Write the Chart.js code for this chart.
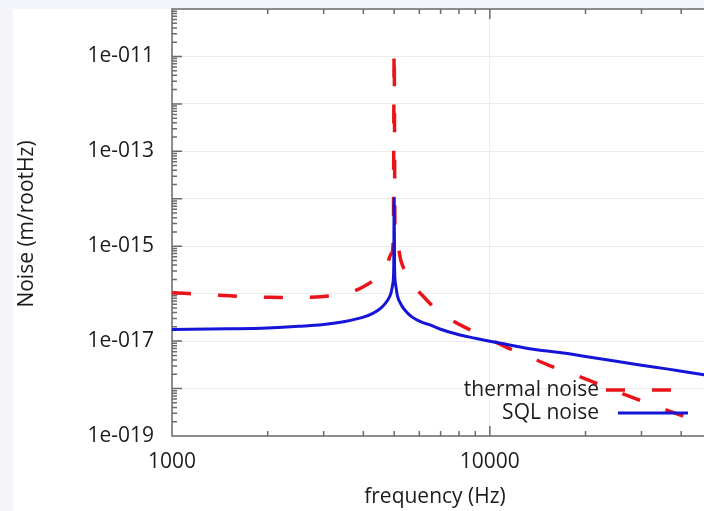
<!DOCTYPE html>
<html>
<head>
<meta charset="utf-8">
<title>Noise spectrum</title>
<script src="https://cdn.jsdelivr.net/npm/chart.js@4.4.0/dist/chart.umd.min.js"></script>
<style>
    html, body { margin: 0; padding: 0; background: #f4f4fb; overflow: hidden; }
    #chart { position: absolute; left: 0; top: 0; }
</style>
</head>
<body>
<canvas id="chart" width="720" height="511"></canvas>
<script>
// Thermal noise (red, dashed)
const thermalFreq  = [1000, 1300, 1600, 2000, 2500, 3000, 3400, 3700, 4000, 4300, 4550, 4750, 4900, 4970, 5000, 5030, 5100, 5250, 5500, 5800, 6200, 6700, 7220, 8300, 9640, 11000, 13120, 15500, 17980, 21000, 24540, 29000, 33750, 39000, 45800, 50000];
const thermalNoise = [1.05e-16, 9.5e-17, 8.8e-17, 8.4e-17, 8.3e-17, 8.7e-17, 9.6e-17, 1.1e-16, 1.4e-16, 1.9e-16, 2.8e-16, 4.2e-16, 7e-16, 1.4e-15, 1.4e-11, 1.8e-15, 1.2e-15, 5e-16, 2.4e-16, 1.4e-16, 8.5e-17, 5e-17, 3.4e-17, 2e-17, 1.27e-17, 8e-18, 4.9e-18, 3e-18, 2.1e-18, 1.4e-18, 9.2e-19, 6e-19, 4.1e-19, 2.9e-19, 1.9e-19, 1.5e-19];

// SQL noise (blue, solid)
const sqlFreq  = [1000, 1500, 2000, 2500, 3000, 3500, 4000, 4300, 4550, 4750, 4880, 4950, 4985, 5000, 5015, 5050, 5120, 5250, 5450, 5700, 6100, 6480, 6960, 8000, 9000, 10000, 12000, 14000, 16600, 20000, 25000, 30000, 36000, 42000, 50000];
const sqlNoise = [1.75e-17, 1.82e-17, 1.9e-17, 2.05e-17, 2.25e-17, 2.6e-17, 3.2e-17, 3.9e-17, 5e-17, 7e-17, 1e-16, 1.6e-16, 3.5e-16, 1e-14, 3.5e-16, 1.6e-16, 9e-17, 6e-17, 4.2e-17, 3.2e-17, 2.5e-17, 2.2e-17, 1.8e-17, 1.36e-17, 1.15e-17, 9.9e-18, 7.9e-18, 6.6e-18, 5.75e-18, 4.75e-18, 3.76e-18, 3.1e-18, 2.6e-18, 2.2e-18, 1.84e-18];

// Axes
const xRange         = [1000, 50000];
const yRange         = [1e-19, 1e-10];
const xLabelTicks    = [1000, 10000];
const yLabelExponent = [-11, -13, -15, -17, -19];

const FONT      = '"Open Sans", sans-serif';
const TEXT      = '#1c1c1c';
const AXIS      = '#6b6b6b';
const GRID      = '#ececec';
const RED       = '#e8141a';
const BLUE      = '#1515d8';

/**
 * Zips frequency and noise lists into points.
 */
function toPoints(freq, noise)
{
    return freq.map((f, i) => ({ x: f, y: noise[i] }));
}

/**
 * Returns the log tick marks (1..9 per decade) inside the range.
 */
function logMarks(min, max)
{
    const marks = [];
    const eMin  = Math.round(Math.log10(min));
    const eMax  = Math.round(Math.log10(max));

    for (let e = eMin; e <= eMax; e++) {
        for (let m = 1; m <= 9; m++) {
            const v = m * Math.pow(10, e);
            if (v >= min * 0.999 && v <= max * 1.001) {
                marks.push({ value: v, major: m === 1 });
            }
        }
    }

    return marks;
}

// Frame, inward tick marks, legend and axis titles
const framePlugin = {
    id: 'frame',

    beforeDraw(chart)
    {
        const ctx = chart.ctx;
        ctx.save();
        ctx.fillStyle = '#ffffff';
        ctx.fillRect(13, 9, chart.width - 13, chart.height - 9);
        ctx.restore();
    },

    beforeDatasetsDraw(chart)
    {
        const { ctx, chartArea: a, scales: { x, y } } = chart;

        ctx.save();
        ctx.strokeStyle = AXIS;
        ctx.lineWidth   = 1.5;
        ctx.beginPath();
        ctx.moveTo(a.right, a.top);
        ctx.lineTo(a.left, a.top);
        ctx.lineTo(a.left, a.bottom);
        ctx.lineTo(a.right, a.bottom);

        logMarks(xRange[0], xRange[1]).forEach(m => {
            const px  = x.getPixelForValue(m.value);
            const len = m.major ? 10 : 5;
            ctx.moveTo(px, a.bottom);
            ctx.lineTo(px, a.bottom - len);
            ctx.moveTo(px, a.top);
            ctx.lineTo(px, a.top + len);
        });

        logMarks(yRange[0], yRange[1]).forEach(m => {
            const py  = y.getPixelForValue(m.value);
            const len = m.major ? 10 : 5;
            ctx.moveTo(a.left, py);
            ctx.lineTo(a.left + len, py);
        });

        ctx.stroke();
        ctx.restore();
    },

    afterDatasetsDraw(chart)
    {
        const ctx = chart.ctx;
        const rows = [
            { ds: chart.data.datasets[0], y: 390 },
            { ds: chart.data.datasets[1], y: 413 }
        ];

        ctx.save();
        ctx.font         = '21px ' + FONT;
        ctx.fillStyle    = TEXT;
        ctx.textAlign    = 'right';
        ctx.textBaseline = 'middle';

        rows.forEach(r => {
            ctx.fillText(r.ds.label, 599, r.y);

            ctx.strokeStyle = r.ds.borderColor;
            ctx.lineWidth   = r.ds.borderWidth;
            ctx.setLineDash(r.ds.borderDash || []);
            ctx.beginPath();
            ctx.moveTo(r.ds.borderDash ? 606 : 618, r.y);
            ctx.lineTo(688, r.y);
            ctx.stroke();
            ctx.setLineDash([]);
        });

        // Axis titles
        ctx.textAlign = 'center';
        ctx.fillText('frequency (Hz)', 435, 497);

        ctx.translate(27, 224);
        ctx.rotate(-Math.PI / 2);
        ctx.fillText('Noise (m/rootHz)', 0, 0);
        ctx.restore();
    }
};

new Chart(document.getElementById('chart'), {
    type: 'line',
    data: {
        datasets: [
            {
                label: 'thermal noise',
                data: toPoints(thermalFreq, thermalNoise),
                borderColor: RED,
                borderWidth: 3.5,
                borderDash: [19, 27],
                pointRadius: 0,
                fill: false,
                cubicInterpolationMode: 'monotone',
                order: 1
            },
            {
                label: 'SQL noise',
                data: toPoints(sqlFreq, sqlNoise),
                borderColor: BLUE,
                borderWidth: 3,
                pointRadius: 0,
                fill: false,
                cubicInterpolationMode: 'monotone',
                order: 0
            }
        ]
    },
    options: {
        responsive: false,
        animation: false,
        layout: { padding: { top: 9, right: 8, left: 0, bottom: 0 } },
        plugins: {
            legend: { display: false },
            tooltip: { enabled: false }
        },
        scales: {
            x: {
                type: 'logarithmic',
                min: xRange[0],
                max: xRange[1],
                afterBuildTicks: scale => {
                    scale.ticks = xLabelTicks.map(v => ({ value: v }));
                },
                afterFit: scale => {
                    scale.height = 75;
                    scale.paddingLeft = 0;
                    scale.paddingRight = 0;
                },
                grid: { color: GRID, lineWidth: 1, drawTicks: false },
                border: { display: false },
                ticks: {
                    autoSkip: false,
                    maxRotation: 0,
                    padding: 13,
                    color: TEXT,
                    font: { family: FONT, size: 21 },
                    callback: v => String(v)
                }
            },
            y: {
                type: 'logarithmic',
                min: yRange[0],
                max: yRange[1],
                afterBuildTicks: scale => {
                    const ticks = [];
                    for (let e = -19; e <= -10; e++) {
                        ticks.push({ value: Math.pow(10, e) });
                    }
                    scale.ticks = ticks;
                },
                afterFit: scale => {
                    scale.width = 172;
                    scale.paddingTop = 0;
                    scale.paddingBottom = 0;
                },
                grid: { color: GRID, lineWidth: 1, drawTicks: false },
                border: { display: false },
                ticks: {
                    autoSkip: false,
                    padding: 18,
                    color: TEXT,
                    font: { family: FONT, size: 21 },
                    callback: v => {
                        const e = Math.round(Math.log10(v));
                        return yLabelExponent.includes(e) ? '1e-' + String(-e).padStart(3, '0') : '';
                    }
                }
            }
        }
    },
    plugins: [framePlugin]
});
</script>
</body>
</html>
